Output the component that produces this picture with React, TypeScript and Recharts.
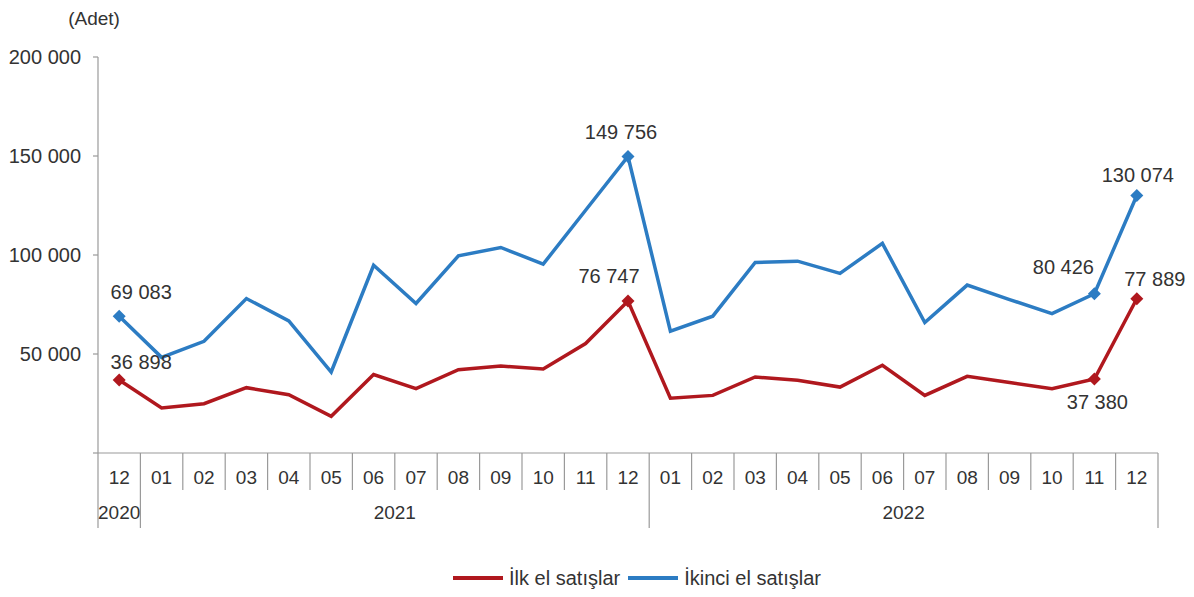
import React from 'react';
import { LineChart, Line, XAxis, YAxis, Legend } from 'recharts';

const months = ['12', '01', '02', '03', '04', '05', '06', '07', '08', '09', '10', '11', '12', '01', '02', '03', '04', '05', '06', '07', '08', '09', '10', '11', '12'];
const yearOfMonth = ['2020', '2021', '2021', '2021', '2021', '2021', '2021', '2021', '2021', '2021', '2021', '2021', '2021', '2022', '2022', '2022', '2022', '2022', '2022', '2022', '2022', '2022', '2022', '2022', '2022'];
const ilkEl = [36898, 22700, 24900, 33000, 29400, 18500, 39600, 32500, 42100, 43900, 42400, 55300, 76747, 27700, 29100, 38400, 36700, 33300, 44300, 29100, 38700, 35600, 32500, 37380, 77889];
const ikinciEl = [69083, 48300, 56400, 78000, 66700, 40900, 94800, 75500, 99600, 103800, 95400, 122600, 149756, 61500, 69100, 96200, 96900, 90700, 105900, 65900, 84800, 77500, 70400, 80426, 130074];
const yTicks = [0, 50000, 100000, 150000, 200000];
const labeledIndices = [0, 12, 23, 24];
const seriesNames = { ilk: 'İlk el satışlar', ikinci: 'İkinci el satışlar' };
const unitLabel = '(Adet)';

const data = months.map((m, i) => ({ key: `${yearOfMonth[i]}-${m}-${i}`, month: m, ilk: ilkEl[i], ikinci: ikinciEl[i] }));

const W = 1194;
const H = 597;
const LEFT = 98;
const RIGHT = 36;
const BAND = (W - LEFT - RIGHT) / months.length;
const FONT = '"Liberation Sans", Arial, sans-serif';
const TEXT = '#333333';
const AXIS = '#9a9a9a';
const RED = '#b0181e';
const BLUE = '#2c7cc3';

const fmt = (v: number) => String(v).replace(/\B(?=(\d{3})+(?!\d))/g, ' ');

const labelOffsets: Record<string, Record<number, [number, number]>> = {
  ilk: { 0: [22, -18], 12: [-19, -25], 23: [3, 23], 24: [18, -20] },
  ikinci: { 0: [22, -24], 12: [-7, -24], 23: [-31, -27], 24: [1, -20] },
};

const makeDot = (color: string) => (props: any) => {
  const { cx, cy, index } = props;
  if (!labeledIndices.includes(index) || cx == null || cy == null) return <g key={`d-${index}`} />;
  const r = 6.5;
  return (
    <polygon
      key={`d-${index}`}
      points={`${cx},${cy - r} ${cx + r},${cy} ${cx},${cy + r} ${cx - r},${cy}`}
      fill={color}
    />
  );
};

const makeLabel = (series: string) => (props: any) => {
  const { x, y, index, value } = props;
  if (!labeledIndices.includes(index) || x == null || y == null) return <g key={`l-${index}`} />;
  const [dx, dy] = labelOffsets[series][index];
  return (
    <text key={`l-${index}`} x={x + dx} y={y + dy + 7} textAnchor="middle" fontSize={20} fill={TEXT} fontFamily={FONT}>
      {fmt(value)}
    </text>
  );
};

const XTick = (props: any) => {
  const { x, y, payload } = props;
  const i = payload.index;
  const half = BAND / 2;
  const yr = yearOfMonth[i];
  const isYearStart = i === 0 || yearOfMonth[i - 1] !== yr;
  const isLast = i === months.length - 1;
  let end = i;
  while (end + 1 < months.length && yearOfMonth[end + 1] === yr) end++;
  return (
    <g>
      <line x1={x - half} x2={x - half} y1={y} y2={y + (isYearStart ? 75 : 37)} stroke={AXIS} strokeWidth={1.2} />
      {isLast && <line x1={x + half} x2={x + half} y1={y} y2={y + 75} stroke={AXIS} strokeWidth={1.2} />}
      <text x={x} y={y + 31} textAnchor="middle" fontSize={19} fill={TEXT} fontFamily={FONT}>
        {payload.value}
      </text>
      {isYearStart && (
        <text x={x + (end - i) * half} y={y + 66} textAnchor="middle" fontSize={19} fill={TEXT} fontFamily={FONT}>
          {yr}
        </text>
      )}
    </g>
  );
};

const LegendContent = () => (
  <div
    style={{
      display: 'flex',
      justifyContent: 'center',
      alignItems: 'center',
      height: 30,
      paddingLeft: 80,
      fontFamily: FONT,
      fontSize: 20,
      color: TEXT,
      boxSizing: 'border-box',
    }}
  >
    <span style={{ display: 'inline-block', width: 50, height: 4, background: RED, marginRight: 6 }} />
    <span style={{ marginRight: 8 }}>{seriesNames.ilk}</span>
    <span style={{ display: 'inline-block', width: 50, height: 4, background: BLUE, marginRight: 6 }} />
    <span>{seriesNames.ikinci}</span>
  </div>
);

const UnitLabel = (props: any) => (
  <text x={94} y={25} textAnchor="middle" fontSize={19} fill={TEXT} fontFamily={FONT}>
    {unitLabel}
  </text>
);

export default function App() {
  return (
    <div style={{ position: 'absolute', left: 0, top: 0, width: W, height: H, background: '#fff' }}>
      <LineChart width={W} height={H} data={data} margin={{ top: 57, right: RIGHT, bottom: 4, left: 0 }}>
        <XAxis
          dataKey="month"
          xAxisId={0}
          type="category"
          allowDuplicatedCategory
          interval={0}
          padding={{ left: BAND / 2, right: BAND / 2 }}
          tickLine={false}
          tickSize={0}
          tickMargin={0}
          height={110}
          stroke={AXIS}
          strokeWidth={1.2}
          tick={<XTick />}
        />
        <YAxis
          width={LEFT}
          domain={[0, 200000]}
          ticks={yTicks}
          interval={0}
          tickSize={5}
          tickMargin={12}
          stroke={AXIS}
          strokeWidth={1.2}
          tick={{ fontSize: 20, fill: TEXT, fontFamily: FONT }}
          tickFormatter={(v: number) => (v === 0 ? '' : fmt(v))}
          label={<UnitLabel />}
        />
        <Legend verticalAlign="bottom" width={W} wrapperStyle={{ left: 0, height: 30 }} content={<LegendContent />} />
        <Line
          dataKey="ilk"
          name={seriesNames.ilk}
          stroke={RED}
          strokeWidth={3.5}
          dot={makeDot(RED)}
          activeDot={false}
          label={makeLabel('ilk')}
          isAnimationActive={false}
        />
        <Line
          dataKey="ikinci"
          name={seriesNames.ikinci}
          stroke={BLUE}
          strokeWidth={3.5}
          dot={makeDot(BLUE)}
          activeDot={false}
          label={makeLabel('ikinci')}
          isAnimationActive={false}
        />
      </LineChart>
    </div>
  );
}
